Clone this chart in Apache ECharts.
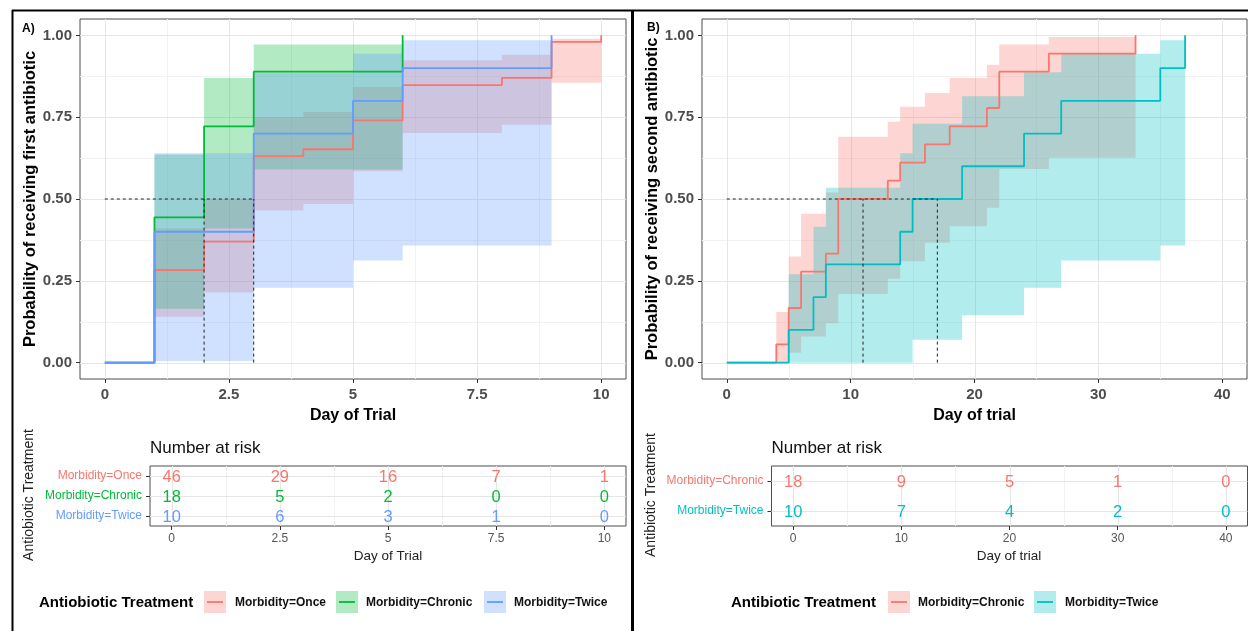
<!DOCTYPE html>
<html><head><meta charset="utf-8">
<script src="https://cdn.jsdelivr.net/npm/echarts@6/dist/echarts.min.js"></script>
<style>html,body{margin:0;padding:0;background:#fff;overflow:hidden}#c{width:1248px;height:631px}</style>
</head><body><div id="c"></div>
<script>
// ================= DATA =================
// Panel A – first antibiotic (cumulative probability, step times, estimate, CI per interval)
const A_ONCE_T   = [0, 1, 2, 3, 4, 5, 6, 8, 9, 10];
const A_ONCE_EST = [0, 0.283, 0.370, 0.631, 0.652, 0.740, 0.848, 0.870, 0.980, 1.0];
const A_ONCE_LO  = [0, 0.140, 0.214, 0.465, 0.485, 0.585, 0.702, 0.727, 0.855];
const A_ONCE_HI  = [0, 0.410, 0.500, 0.750, 0.766, 0.842, 0.924, 0.941, 0.990];

const A_CHRONIC_T   = [0, 1, 2, 3, 6];
const A_CHRONIC_EST = [0, 0.444, 0.722, 0.889, 1.0];
const A_CHRONIC_LO  = [0, 0.165, 0.410, 0.590];
const A_CHRONIC_HI  = [0, 0.636, 0.870, 0.972];

const A_TWICE_T   = [0, 1, 3, 5, 6, 9];
const A_TWICE_EST = [0, 0.40, 0.70, 0.80, 0.90, 1.0];
const A_TWICE_LO  = [0, 0.005, 0.229, 0.312, 0.358];
const A_TWICE_HI  = [0, 0.640, 0.885, 0.944, 0.985];

const A_MEDIANS = [2, 3];

// Panel B – second antibiotic
const B_CHRONIC_T   = [0, 4, 5, 6, 8, 9, 13, 14, 16, 18, 21, 22, 26, 33];
const B_CHRONIC_EST = [0, 0.056, 0.167, 0.278, 0.333, 0.500, 0.556, 0.611, 0.667, 0.722, 0.778, 0.889, 0.944, 1.0];
const B_CHRONIC_LO  = [0, 0, 0.030, 0.080, 0.120, 0.210, 0.256, 0.310, 0.366, 0.417, 0.473, 0.592, 0.626];
const B_CHRONIC_HI  = [0, 0.155, 0.324, 0.455, 0.520, 0.690, 0.736, 0.782, 0.824, 0.870, 0.910, 0.972, 0.995];

const B_TWICE_T   = [0, 5, 7, 8, 14, 15, 19, 24, 27, 35, 37];
const B_TWICE_EST = [0, 0.1, 0.2, 0.3, 0.4, 0.5, 0.6, 0.7, 0.8, 0.9, 1.0];
const B_TWICE_LO  = [0, 0, 0, 0, 0, 0.070, 0.145, 0.229, 0.312, 0.358];
const B_TWICE_HI  = [0, 0.270, 0.415, 0.534, 0.640, 0.730, 0.814, 0.887, 0.944, 0.985];

const B_MEDIANS = [11, 17];
const MEDIAN_LEVEL = 0.5;

// Ticks
const A_XTICKS = [0, 2.5, 5, 7.5, 10];
const A_XMINOR = [1.25, 3.75, 6.25, 8.75];
const B_XTICKS = [0, 10, 20, 30, 40];
const B_XMINOR = [5, 15, 25, 35];
const Y_TICKS  = [0, 0.25, 0.5, 0.75, 1];
const Y_MINOR  = [0.125, 0.375, 0.625, 0.875];

// Number at risk tables
const RISK_A_GROUPS  = ['Morbidity=Once', 'Morbidity=Chronic', 'Morbidity=Twice'];
const RISK_A_TIMES   = [0, 2.5, 5, 7.5, 10];
const RISK_A_ONCE    = [46, 29, 16, 7, 1];
const RISK_A_CHRONIC = [18, 5, 2, 0, 0];
const RISK_A_TWICE   = [10, 6, 3, 1, 0];

const RISK_B_GROUPS  = ['Morbidity=Chronic', 'Morbidity=Twice'];
const RISK_B_TIMES   = [0, 10, 20, 30, 40];
const RISK_B_CHRONIC = [18, 9, 5, 1, 0];
const RISK_B_TWICE   = [10, 7, 4, 2, 0];

// ================= STYLE =================
const FONT = '"Liberation Sans", Arial, Helvetica, sans-serif';
const RED = '#F8766D', GREEN = '#00BA38', BLUE = '#619CFF', TEAL = '#00BFC4';
function rgba(hex, a) {
  const n = parseInt(hex.slice(1), 16);
  return 'rgba(' + ((n >> 16) & 255) + ',' + ((n >> 8) & 255) + ',' + (n & 255) + ',' + a + ')';
}
const BAND_ALPHA = 0.3;
const TICK_COLOR = '#333333';
const LABEL_GREY = '#4D4D4D';

// ================= HELPERS =================
function gridLines(xi, yi, majorX, minorX, majorY, minorY) {
  return {
    type: 'custom', xAxisIndex: xi, yAxisIndex: yi, z: 1, silent: true,
    data: [[majorX[0], 0]],
    renderItem: function (params, api) {
      const cs = params.coordSys, ch = [];
      const v = (val, st) => { const x = Math.round(api.coord([val, 0])[0]) + 0.5;
        ch.push({type: 'line', shape: {x1: x, y1: cs.y, x2: x, y2: cs.y + cs.height}, style: st}); };
      const h = (val, st) => { const y = Math.round(api.coord([majorX[0], val])[1]) + 0.5;
        ch.push({type: 'line', shape: {x1: cs.x, y1: y, x2: cs.x + cs.width, y2: y}, style: st}); };
      const minor = {stroke: '#F2F2F2', lineWidth: 1};
      const major = {stroke: '#E6E6E6', lineWidth: 1};
      minorX.forEach(a => v(a, minor)); minorY.forEach(a => h(a, minor));
      majorX.forEach(a => v(a, major)); majorY.forEach(a => h(a, major));
      return {type: 'group', children: ch};
    }
  };
}
function stepLine(xi, yi, t, est, color) {
  return {
    type: 'line', xAxisIndex: xi, yAxisIndex: yi, step: 'end', symbol: 'none', silent: true, z: 2,
    data: t.map((x, i) => [x, est[i]]),
    lineStyle: {color: color, width: 1.8}, itemStyle: {color: color}
  };
}
function band(xi, yi, t, lo, hi, color) {
  return {
    type: 'custom', xAxisIndex: xi, yAxisIndex: yi, z: 2, silent: true,
    data: [[t[0], 0]],
    renderItem: function (params, api) {
      const up = [], dn = [];
      for (let i = 0; i < lo.length; i++) {
        if (hi[i] <= lo[i]) continue;
        up.push(api.coord([t[i], hi[i]]), api.coord([t[i + 1], hi[i]]));
        dn.push(api.coord([t[i], lo[i]]), api.coord([t[i + 1], lo[i]]));
      }
      dn.reverse();
      return {type: 'polygon', shape: {points: up.concat(dn)}, style: {fill: rgba(color, BAND_ALPHA)}};
    }
  };
}
function medianLines(xi, yi, medians, level) {
  return {
    type: 'custom', xAxisIndex: xi, yAxisIndex: yi, z: 3, silent: true,
    data: [[0, level]],
    renderItem: function (params, api) {
      const st = {stroke: '#222', lineWidth: 1, lineDash: [3, 3]};
      const p0 = api.coord([0, level]), p1 = api.coord([Math.max.apply(null, medians), level]);
      const ch = [{type: 'line', shape: {x1: p0[0], y1: p0[1], x2: p1[0], y2: p1[1]}, style: st}];
      medians.forEach(m => {
        const a = api.coord([m, 0]), b = api.coord([m, level]);
        ch.push({type: 'line', shape: {x1: a[0], y1: a[1], x2: b[0], y2: b[1]}, style: st});
      });
      return {type: 'group', children: ch};
    }
  };
}
function riskRow(xi, yi, times, rowIndex, counts, color) {
  return {
    type: 'custom', xAxisIndex: xi, yAxisIndex: yi, z: 4, silent: true,
    data: times.map((x, i) => [x, rowIndex, counts[i]]),
    renderItem: function (params, api) {
      const p = api.coord([api.value(0), api.value(1)]);
      return {type: 'text', x: p[0], y: p[1] + 1,
        style: {text: String(api.value(2)), fill: color, fontSize: 16.5, fontFamily: FONT,
                align: 'center', verticalAlign: 'middle'}};
    }
  };
}
function mainX(gi, min, max, ticks) {
  return {type: 'value', gridIndex: gi, min: min, max: max,
    axisLine: {show: false, onZero: false}, splitLine: {show: false},
    axisTick: {show: true, length: 4, customValues: ticks, lineStyle: {color: TICK_COLOR, width: 1}},
    axisLabel: {customValues: ticks, margin: 8, fontSize: 15, fontWeight: 'bold', color: LABEL_GREY, fontFamily: FONT}};
}
function mainY(gi) {
  return {type: 'value', gridIndex: gi, min: -0.05, max: 1.05,
    axisLine: {show: false, onZero: false}, splitLine: {show: false},
    axisTick: {show: true, length: 4, customValues: Y_TICKS, lineStyle: {color: TICK_COLOR, width: 1}},
    axisLabel: {customValues: Y_TICKS, margin: 8, fontSize: 15, fontWeight: 'bold', color: LABEL_GREY, fontFamily: FONT,
                formatter: v => Number(v).toFixed(2)}};
}
function riskX(gi, min, max, ticks) {
  return {type: 'value', gridIndex: gi, min: min, max: max,
    axisLine: {show: false, onZero: false}, splitLine: {show: false},
    axisTick: {show: true, length: 4, customValues: ticks, lineStyle: {color: TICK_COLOR, width: 1}},
    axisLabel: {customValues: ticks, margin: 7, fontSize: 12, color: '#555', fontFamily: FONT}};
}
function riskY(gi, groups, colors) {
  return {type: 'category', gridIndex: gi, inverse: true,
    data: groups.map((g, i) => ({value: g, textStyle: {color: colors[i]}})),
    axisLine: {show: false, onZero: false}, splitLine: {show: false},
    axisTick: {show: true, alignWithLabel: true, length: 4, lineStyle: {color: TICK_COLOR, width: 1}},
    axisLabel: {margin: 8, fontSize: 12, fontFamily: FONT}};
}

// ================= LAYOUT =================
const gridBase = {show: true, borderColor: '#4D4D4D', borderWidth: 1, backgroundColor: '#fff', containLabel: false, outerBoundsMode: 'none'};
const grids = [
  Object.assign({}, gridBase, {left: 80, top: 19, width: 546, height: 360}),
  Object.assign({}, gridBase, {left: 150, top: 466, width: 476, height: 60}),
  Object.assign({}, gridBase, {left: 702, top: 19, width: 545, height: 360}),
  Object.assign({}, gridBase, {left: 771.5, top: 466, width: 476, height: 60})
];

function txt(text, x, y, size, weight, color, align, rot) {
  return {type: 'text', x: x, y: y, rotation: rot || 0, z: 10, silent: true,
    style: {text: text, fontSize: size, fontWeight: weight || 'normal', fontFamily: FONT,
            fill: color || '#000', align: align || 'left', verticalAlign: 'middle'}};
}
function legendKey(x, cy, color) {
  return [
    {type: 'rect', z: 10, silent: true, shape: {x: x, y: cy - 11, width: 22, height: 22}, style: {fill: rgba(color, BAND_ALPHA)}},
    {type: 'line', z: 11, silent: true, shape: {x1: x + 3, y1: cy, x2: x + 19, y2: cy}, style: {stroke: color, lineWidth: 1.8}}
  ];
}
const R90 = Math.PI / 2;
const LEG_Y = 602;
const graphics = [
  // outer frames
  {type: 'line', z: 20, silent: true, shape: {x1: 12, y1: 10.5, x2: 1248, y2: 10.5}, style: {stroke: '#000', lineWidth: 2}},
  {type: 'line', z: 20, silent: true, shape: {x1: 12.5, y1: 10, x2: 12.5, y2: 640}, style: {stroke: '#000', lineWidth: 2}},
  {type: 'line', z: 20, silent: true, shape: {x1: 632.5, y1: 10, x2: 632.5, y2: 640}, style: {stroke: '#000', lineWidth: 3}},
  txt('A)', 22, 28.5, 12, 'bold', '#000'),
  txt('B)', 647, 28, 12, 'bold', '#000'),
  // axis titles panel A
  txt('Probability of receiving first antibiotic', 30, 199, 16.5, 'bold', '#000', 'center', R90),
  txt('Day of Trial', 353, 415.5, 16, 'bold', '#000', 'center'),
  txt('Number at risk', 150, 448.5, 17, 'normal', '#111'),
  txt('Day of Trial', 388, 556.5, 13.5, 'normal', '#222', 'center'),
  txt('Antiobiotic Treatment', 29.5, 495, 14, 'normal', '#222', 'center', R90),
  // axis titles panel B
  txt('Probability of receiving second antibiotic', 652, 199, 16.5, 'bold', '#000', 'center', R90),
  txt('Day of trial', 974.5, 415.5, 16, 'bold', '#000', 'center'),
  txt('Number at risk', 771.5, 448.5, 17, 'normal', '#111'),
  txt('Day of trial', 1009, 556.5, 13.5, 'normal', '#222', 'center'),
  txt('Antibiotic Treatment', 651, 495, 14, 'normal', '#222', 'center', R90),
  // legend A
  txt('Antiobiotic Treatment', 39, LEG_Y + 1, 15, 'bold', '#000'),
  ...legendKey(204, LEG_Y, RED),   txt('Morbidity=Once', 235, LEG_Y + 1, 12, 'bold', '#111'),
  ...legendKey(336, LEG_Y, GREEN), txt('Morbidity=Chronic', 366, LEG_Y + 1, 12, 'bold', '#111'),
  ...legendKey(484, LEG_Y, BLUE),  txt('Morbidity=Twice', 514, LEG_Y + 1, 12, 'bold', '#111'),
  // legend B
  txt('Antibiotic Treatment', 731, LEG_Y + 1, 15, 'bold', '#000'),
  ...legendKey(888, LEG_Y, RED),   txt('Morbidity=Chronic', 918, LEG_Y + 1, 12, 'bold', '#111'),
  ...legendKey(1034, LEG_Y, TEAL), txt('Morbidity=Twice', 1065, LEG_Y + 1, 12, 'bold', '#111')
];

const option = {
  animation: false,
  backgroundColor: '#fff',
  textStyle: {fontFamily: FONT},
  grid: grids,
  xAxis: [mainX(0, -0.5, 10.5, A_XTICKS), riskX(1, -0.5, 10.5, A_XTICKS),
          mainX(2, -2, 42, B_XTICKS), riskX(3, -2, 42, B_XTICKS)],
  yAxis: [mainY(0), riskY(1, RISK_A_GROUPS, [RED, GREEN, BLUE]),
          mainY(2), riskY(3, RISK_B_GROUPS, [RED, TEAL])],
  series: [
    gridLines(0, 0, A_XTICKS, A_XMINOR, Y_TICKS, Y_MINOR),
    gridLines(1, 1, A_XTICKS, A_XMINOR, [0, 1, 2], []),
    gridLines(2, 2, B_XTICKS, B_XMINOR, Y_TICKS, Y_MINOR),
    gridLines(3, 3, B_XTICKS, B_XMINOR, [0, 1], []),
    // panel A curves (lines under ribbons, as in survminer)
    stepLine(0, 0, A_ONCE_T, A_ONCE_EST, RED),
    stepLine(0, 0, A_CHRONIC_T, A_CHRONIC_EST, GREEN),
    stepLine(0, 0, A_TWICE_T, A_TWICE_EST, BLUE),
    band(0, 0, A_ONCE_T, A_ONCE_LO, A_ONCE_HI, RED),
    band(0, 0, A_CHRONIC_T, A_CHRONIC_LO, A_CHRONIC_HI, GREEN),
    band(0, 0, A_TWICE_T, A_TWICE_LO, A_TWICE_HI, BLUE),
    medianLines(0, 0, A_MEDIANS, MEDIAN_LEVEL),
    // panel B curves
    stepLine(2, 2, B_CHRONIC_T, B_CHRONIC_EST, RED),
    stepLine(2, 2, B_TWICE_T, B_TWICE_EST, TEAL),
    band(2, 2, B_CHRONIC_T, B_CHRONIC_LO, B_CHRONIC_HI, RED),
    band(2, 2, B_TWICE_T, B_TWICE_LO, B_TWICE_HI, TEAL),
    medianLines(2, 2, B_MEDIANS, MEDIAN_LEVEL),
    // risk tables
    riskRow(1, 1, RISK_A_TIMES, 0, RISK_A_ONCE, RED),
    riskRow(1, 1, RISK_A_TIMES, 1, RISK_A_CHRONIC, GREEN),
    riskRow(1, 1, RISK_A_TIMES, 2, RISK_A_TWICE, BLUE),
    riskRow(3, 3, RISK_B_TIMES, 0, RISK_B_CHRONIC, RED),
    riskRow(3, 3, RISK_B_TIMES, 1, RISK_B_TWICE, TEAL)
  ],
  graphic: {elements: graphics}
};

const chart = echarts.init(document.getElementById('c'), null, {renderer: 'canvas'});
chart.setOption(option);
</script>
</body></html>
